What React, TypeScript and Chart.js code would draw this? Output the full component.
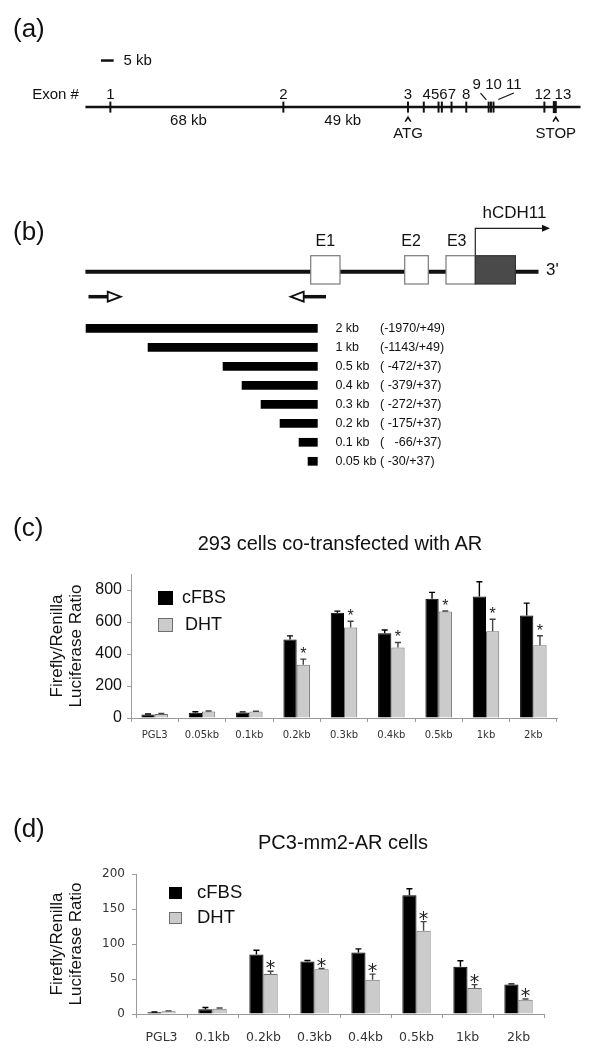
import React, { useEffect, useRef } from 'react';
import { Chart, registerables } from 'chart.js';
Chart.register(...registerables);

const SANS = '"Liberation Sans", Arial, Helvetica, sans-serif';
const DEJAVU = '"DejaVu Sans", Verdana, sans-serif';

// ---------------- (a) genomic organisation of hCDH11 ----------------
const exonNumbers = ['1', '2', '3', '4', '5', '6', '7', '8', '9', '10', '11', '12', '13'];
const exonKb = [0, 68, 117, 123.2, 129.0, 130.3, 134.1, 139.9, 148.7, 149.6, 150.6, 170.6, 174.7];
const geneSpanKb = [-9.8, 184.8];
const intronLabels = ['68 kb', '49 kb'];
const intronLabelKb = [30.7, 91.3];
const scaleBarKb = 5;
const landmarkLabels = ['ATG', 'STOP'];
const landmarkExon = [2, 12];

// ---------------- (b) promoter constructs ----------------
const fragmentNames = ['2 kb', '1 kb', '0.5 kb', '0.4 kb', '0.3 kb', '0.2 kb', '0.1 kb', '0.05 kb'];
const fragmentCoords = ['(-1970/+49)', '(-1143/+49)', '( -472/+37)', '( -379/+37)', '( -272/+37)', '( -175/+37)', '(   -66/+37)', '( -30/+37)'];
const fragmentDrawnLength = [232, 170, 95, 76, 57, 38, 19, 10];
const exonBoxNames = ['E1', 'E2', 'E3'];
const exonBoxStart = [-7, 87, 128.3];
const exonBoxEnd = [22.3, 110.6, 157.6];
const codingEnd = 197.7;
const promoterLineSpan = [-232.3, 220.8];

// ---------------- (c) 293 cells co-transfected with AR ----------------
const catsC = ['PGL3', '0.05kb', '0.1kb', '0.2kb', '0.3kb', '0.4kb', '0.5kb', '1kb', '2kb'];
const cfbsC = [22, 33, 35, 490, 658, 530, 745, 760, 640];
const cfbsErrC = [3, 6, 3, 23, 10, 20, 40, 92, 78];
const dhtC = [25, 40, 40, 333, 565, 440, 665, 542, 454];
const dhtErrC = [3, 4, 2, 35, 40, 32, 4, 75, 60];
const starsC = [false, false, false, true, true, true, true, true, true];
const ticksC = [0, 200, 400, 600, 800];

// ---------------- (d) PC3-mm2-AR cells ----------------
const catsD = ['PGL3', '0.1kb', '0.2kb', '0.3kb', '0.4kb', '0.5kb', '1kb', '2kb'];
const cfbsD = [2.4, 6.7, 85, 75, 88, 169.5, 67.5, 42];
const cfbsErrD = [0.5, 2.5, 6, 1.5, 5, 9.5, 8.5, 1];
const dhtD = [4, 7.6, 57, 64, 49, 119, 37, 20.5];
const dhtErrD = [0.5, 1, 4, 1, 8, 13, 5, 1];
const starsD = [false, false, true, true, true, true, true, true];
const ticksD = [0, 50, 100, 150, 200];

const seriesNames = ['cFBS', 'DHT'];
const yTitle = ['Firefly/Renilla', 'Luciferase Ratio'];

function text(ctx: CanvasRenderingContext2D, s: string, x: number, y: number, font: string, align: CanvasTextAlign = 'center', color = '#111') {
  ctx.font = font;
  ctx.fillStyle = color;
  ctx.textAlign = align;
  ctx.textBaseline = 'middle';
  ctx.fillText(s, x, y);
}

const noInteract = {
  responsive: false,
  maintainAspectRatio: false,
  animation: false as const,
  events: [] as any[],
};

// ---------- Panel (a) ----------
function buildA(): any {
  const panelA = {
    id: 'panelA',
    afterDatasetsDraw(chart: any) {
      const { ctx, scales: { x, y } } = chart;
      const X = (v: number) => x.getPixelForValue(v);
      const Y = (v: number) => y.getPixelForValue(v);
      const f = `15px ${SANS}`;
      ctx.save();
      text(ctx, `${scaleBarKb} kb`, X(scaleBarKb) + 0.5, Y(53), f, 'left');
      text(ctx, 'Exon #', X(-30.7), Y(14), f, 'left');
      const lower: [string, number][] = [
        [exonNumbers[0], exonKb[0]], [exonNumbers[1], exonKb[1]], [exonNumbers[2], exonKb[2]],
        [exonNumbers.slice(3, 7).join(''), 129.3], [exonNumbers[7], exonKb[7]],
        [exonNumbers[11], 170.0], [exonNumbers[12], 177.9],
      ];
      lower.forEach(([s, kb]) => text(ctx, s, X(kb), Y(14), f));
      const upper: [string, number][] = [[exonNumbers[8], 144.0], [exonNumbers[9], 150.6], [exonNumbers[10], 158.6]];
      upper.forEach(([s, kb]) => text(ctx, s, X(kb), Y(25), f));
      ctx.strokeStyle = '#111';
      ctx.lineWidth = 1.2;
      ctx.beginPath();
      ctx.moveTo(X(145.5), Y(16)); ctx.lineTo(X(147.8), Y(8.3));
      ctx.moveTo(X(158.6), Y(16)); ctx.lineTo(X(152.5), Y(8.7));
      ctx.stroke();
      intronLabels.forEach((s, i) => text(ctx, s, X(intronLabelKb[i]), Y(-16), f));
      landmarkLabels.forEach((s, i) => {
        const kb = exonKb[landmarkExon[i]];
        const cx = X(kb) + (i === 1 ? 1 : 0);
        ctx.lineWidth = 1.6;
        ctx.beginPath();
        ctx.moveTo(cx - 2.8, Y(-16.5)); ctx.lineTo(cx, Y(-11.5)); ctx.lineTo(cx + 2.8, Y(-16.5));
        ctx.stroke();
        text(ctx, s, cx, Y(-31), f);
      });
      ctx.restore();
    },
  };
  return {
    type: 'scatter',
    data: {
      datasets: [
        { type: 'line', data: geneSpanKb.map((k) => ({ x: k, y: 0 })), borderColor: '#111', borderWidth: 2.5, pointRadius: 0 },
        {
          type: 'scatter', data: exonKb.map((k) => ({ x: k, y: 0 })), pointStyle: 'line', rotation: 90,
          radius: (c: any) => (c.dataIndex === 12 ? 6 : 5.5), borderWidth: (c: any) => (c.dataIndex === 12 ? 4 : 2),
          borderColor: '#111', backgroundColor: '#111',
        },
        { type: 'line', data: [{ x: -3.7, y: 53 }, { x: -3.7 + scaleBarKb, y: 53 }], borderColor: '#111', borderWidth: 2.5, pointRadius: 0 },
      ],
    },
    options: {
      ...noInteract,
      layout: { padding: 0 },
      plugins: { legend: { display: false }, tooltip: { enabled: false } },
      scales: {
        x: { type: 'linear', min: -39.45, max: 190.5, display: false },
        y: { type: 'linear', min: -54.5, max: 110.5, display: false },
      },
    },
    plugins: [panelA],
  };
}

// ---------- Panel (b) ----------
function buildB(): any {
  const geneY = 106.7;
  const primerY = 131.7;
  const rowY = (i: number) => 163.3 + i * 19;
  const panelB = {
    id: 'panelB',
    afterDatasetsDraw(chart: any) {
      const { ctx, scales: { x, y } } = chart;
      const X = (v: number) => x.getPixelForValue(v);
      const Y = (v: number) => y.getPixelForValue(v);
      ctx.save();
      const top = Y(90.7), bot = Y(119);
      exonBoxNames.forEach((n, i) => {
        ctx.fillStyle = '#fff';
        ctx.fillRect(X(exonBoxStart[i]), top, X(exonBoxEnd[i]) - X(exonBoxStart[i]), bot - top);
        ctx.strokeStyle = '#7a7a7a'; ctx.lineWidth = 1.2;
        ctx.strokeRect(X(exonBoxStart[i]), top, X(exonBoxEnd[i]) - X(exonBoxStart[i]), bot - top);
      });
      ctx.fillStyle = '#4a4a4a';
      ctx.fillRect(X(exonBoxEnd[2]), top, X(codingEnd) - X(exonBoxEnd[2]), bot - top);
      ctx.strokeStyle = '#333';
      ctx.strokeRect(X(exonBoxEnd[2]), top, X(codingEnd) - X(exonBoxEnd[2]), bot - top);
      const f16 = `16px ${SANS}`;
      const labelX = [7.6, 93.3, 139];
      exonBoxNames.forEach((n, i) => text(ctx, n, X(labelX[i]), Y(76.7), f16));
      text(ctx, 'hCDH11', X(196.7), Y(48.3), `17px ${SANS}`);
      text(ctx, "3'", X(228.3), Y(105), `17px ${SANS}`, 'left');
      const tipX = X(232.3), ay = Y(63.3);
      ctx.fillStyle = '#111';
      ctx.beginPath(); ctx.moveTo(tipX, ay); ctx.lineTo(tipX - 8, ay - 3.5); ctx.lineTo(tipX - 8, ay + 3.5); ctx.closePath(); ctx.fill();
      ctx.strokeStyle = '#111'; ctx.lineWidth = 1.8; ctx.fillStyle = '#fff';
      const py = Y(primerY);
      ctx.beginPath(); ctx.moveTo(X(-210), py - 5); ctx.lineTo(X(-197), py); ctx.lineTo(X(-210), py + 5); ctx.closePath(); ctx.fill(); ctx.stroke();
      ctx.beginPath(); ctx.moveTo(X(-14), py - 5); ctx.lineTo(X(-27), py); ctx.lineTo(X(-14), py + 5); ctx.closePath(); ctx.fill(); ctx.stroke();
      const f12 = `12.5px ${SANS}`;
      fragmentNames.forEach((n, i) => {
        text(ctx, n, X(17.7), Y(rowY(i)), f12, 'left');
        text(ctx, fragmentCoords[i], X(62.3), Y(rowY(i)), f12, 'left');
      });
      ctx.restore();
    },
  };
  const datasets: any[] = [
    { type: 'line', data: promoterLineSpan.map((v) => ({ x: v, y: geneY })), borderColor: '#111', borderWidth: 4, pointRadius: 0, borderCapStyle: 'butt' },
    { type: 'line', data: [{ x: exonBoxEnd[2], y: 90.7 }, { x: exonBoxEnd[2], y: 63.3 }, { x: 226, y: 63.3 }], borderColor: '#222', borderWidth: 1.2, pointRadius: 0 },
    { type: 'line', data: [{ x: -229.2, y: primerY }, { x: -210, y: primerY }], borderColor: '#111', borderWidth: 3.5, pointRadius: 0, borderCapStyle: 'butt' },
    { type: 'line', data: [{ x: -14, y: primerY }, { x: 8.3, y: primerY }], borderColor: '#111', borderWidth: 3.5, pointRadius: 0, borderCapStyle: 'butt' },
  ];
  fragmentDrawnLength.forEach((len, i) => {
    datasets.push({ type: 'line', data: [{ x: -len, y: rowY(i) }, { x: 0, y: rowY(i) }], borderColor: '#000', borderWidth: 8.7, pointRadius: 0, borderCapStyle: 'butt' });
  });
  return {
    type: 'scatter',
    data: { datasets },
    options: {
      ...noInteract,
      layout: { padding: 0 },
      plugins: { legend: { display: false }, tooltip: { enabled: false } },
      scales: {
        x: { type: 'linear', min: -317.7, max: 287.3, display: false },
        y: { type: 'linear', min: 0, max: 340, reverse: true, display: false },
      },
    },
    plugins: [panelB],
  };
}

// ---------- bar charts (c) and (d) ----------
const errorPlugin = {
  id: 'errorStars',
  afterDatasetsDraw(chart: any, _a: any, opts: any) {
    const { ctx } = chart;
    const ys = chart.scales.y;
    ctx.save();
    chart.data.datasets.forEach((ds: any, i: number) => {
      const meta = chart.getDatasetMeta(i);
      meta.data.forEach((bar: any, j: number) => {
        const v = ds.data[j];
        const e = ds.errors[j];
        const yv = ys.getPixelForValue(v);
        const yt = ys.getPixelForValue(v + e);
        ctx.strokeStyle = ds.errorColor;
        ctx.lineWidth = 1.4;
        ctx.beginPath();
        ctx.moveTo(bar.x, yv); ctx.lineTo(bar.x, yt);
        ctx.moveTo(bar.x - opts.cap, yt); ctx.lineTo(bar.x + opts.cap, yt);
        ctx.stroke();
        if (ds.stars && ds.stars[j]) {
          ctx.font = opts.starFont;
          ctx.fillStyle = '#222';
          ctx.textAlign = 'center';
          ctx.textBaseline = 'alphabetic';
          ctx.fillText('*', bar.x, yt + opts.starDy);
        }
      });
    });
    ctx.restore();
  },
};

const boxLegend = {
  id: 'boxLegend',
  afterDraw(chart: any, _a: any, o: any) {
    const { ctx, chartArea } = chart;
    ctx.save();
    chart.data.datasets.forEach((ds: any, i: number) => {
      const bx = chartArea.left + o.dx;
      const by = chartArea.top + o.dy + i * o.step;
      ctx.fillStyle = ds.backgroundColor;
      ctx.fillRect(bx, by, o.w, o.h);
      ctx.strokeStyle = ds.borderColor;
      ctx.lineWidth = 1;
      ctx.strokeRect(bx + 0.5, by + 0.5, o.w - 1, o.h - 1);
      text(ctx, ds.label, bx + o.textDx + i * o.textShift, by + o.h / 2, o.font, 'left', '#111');
    });
    ctx.restore();
  },
};

function buildBar(p: any): any {
  return {
    type: 'bar',
    data: {
      labels: p.cats,
      datasets: [
        { label: seriesNames[0], data: p.cfbs, errors: p.cfbsErr, backgroundColor: '#000', borderColor: '#000', borderWidth: 1, errorColor: '#000' },
        { label: seriesNames[1], data: p.dht, errors: p.dhtErr, stars: p.stars, backgroundColor: '#cbcbcb', borderColor: '#6e6e6e', borderWidth: 1, errorColor: '#444' },
      ],
    },
    options: {
      ...noInteract,
      layout: { padding: { left: 0, right: p.padRight, top: p.padTop, bottom: 0 } },
      datasets: { bar: { barPercentage: 1, categoryPercentage: p.catPct } },
      plugins: {
        legend: { display: false },
        tooltip: { enabled: false },
        errorStars: { cap: 3, starFont: p.starFont, starDy: p.starDy },
        boxLegend: p.legend,
      },
      scales: {
        x: {
          type: 'category',
          grid: { display: true, drawOnChartArea: false, drawTicks: true, tickLength: 4, color: '#9a9a9a', offset: true },
          border: { display: true, color: '#9a9a9a', width: 1 },
          ticks: { font: p.xFont, color: '#333', padding: p.xPad, maxRotation: 0, autoSkip: false },
          afterFit: (s: any) => { s.height = p.xHeight; },
        },
        y: {
          type: 'linear', min: 0, max: p.yMax,
          afterBuildTicks: (s: any) => { s.ticks = p.yTicks.map((v: number) => ({ value: v })); },
          grid: { display: true, drawOnChartArea: false, drawTicks: true, tickLength: 4, color: '#9a9a9a' },
          border: { display: true, color: '#9a9a9a', width: 1 },
          ticks: { font: p.yFont, color: p.yColor, padding: p.yPad, callback: (v: number) => (p.yLabels.includes(v) ? String(v) : '') },
          title: { display: true, text: yTitle, font: { family: SANS, size: 17, lineHeight: 1.12 }, color: '#111', padding: { top: p.titlePad, bottom: 0 } },
          afterFit: (s: any) => { s.width = p.yWidth; },
        },
      },
    },
    plugins: [errorPlugin, boxLegend],
  };
}

function buildC(): any {
  return buildBar({
    cats: catsC, cfbs: cfbsC, cfbsErr: cfbsErrC, dht: dhtC, dhtErr: dhtErrC, stars: starsC,
    padRight: 48, padTop: 69, catPct: 0.56, xHeight: 37, yWidth: 131, yMax: 900,
    yTicks: [0, 100, 200, 300, 400, 500, 600, 700, 800, 900], yLabels: ticksC,
    xFont: { family: DEJAVU, size: 10 }, xPad: 7,
    yFont: { family: SANS, size: 16 }, yColor: '#111', yPad: 5,
    titlePad: 47.5,
    starFont: `16px ${SANS}`, starDy: 0,
    legend: { dx: 27, dy: 17, step: 27, w: 15, h: 14, textDx: 24, textShift: 3, font: `18px ${SANS}` },
  });
}

function buildD(): any {
  return buildBar({
    cats: catsD, cfbs: cfbsD, cfbsErr: cfbsErrD, dht: dhtD, dhtErr: dhtErrD, stars: starsD,
    padRight: 61, padTop: 119, catPct: 0.555, xHeight: 36, yWidth: 136, yMax: 200,
    yTicks: ticksD, yLabels: ticksD,
    xFont: { family: DEJAVU, size: 12.5 }, xPad: 12,
    yFont: { family: DEJAVU, size: 12 }, yColor: '#333', yPad: 7,
    titlePad: 47.5,
    starFont: `19px ${DEJAVU}`, starDy: 3,
    legend: { dx: 33, dy: 13, step: 25, w: 13, h: 12, textDx: 28, textShift: 0, font: `18.5px ${SANS}` },
  });
}

function ChartBox({ top, height, build }: { top: number; height: number; build: () => any }) {
  const ref = useRef<HTMLCanvasElement>(null);
  useEffect(() => {
    const chart = new Chart(ref.current as HTMLCanvasElement, build());
    return () => chart.destroy();
  }, []);
  return (
    <div style={{ position: 'absolute', left: 0, top, width: 605, height }}>
      <canvas ref={ref} width={605} height={height} style={{ display: 'block', width: 605, height }} />
    </div>
  );
}

function Label({ x, y, size, children, center = false }: any) {
  return (
    <div
      style={{
        position: 'absolute', left: x, top: y, fontFamily: SANS, fontSize: size, lineHeight: 1, color: '#111',
        whiteSpace: 'nowrap', transform: center ? 'translate(-50%, -50%)' : 'translateY(-50%)',
      }}
    >
      {children}
    </div>
  );
}

export default function App() {
  return (
    <div style={{ position: 'absolute', left: 0, top: 0, width: 605, height: 1050, background: '#fff', overflow: 'hidden' }}>
      <ChartBox top={0} height={165} build={buildA} />
      <ChartBox top={165} height={340} build={buildB} />
      <ChartBox top={505} height={250} build={buildC} />
      <ChartBox top={755} height={295} build={buildD} />
      <Label x={13} y={28} size={26}>(a)</Label>
      <Label x={13} y={231} size={26}>(b)</Label>
      <Label x={13} y={527} size={26}>(c)</Label>
      <Label x={13} y={828} size={26}>(d)</Label>
      <Label x={340} y={543} size={20} center>293 cells co-transfected with AR</Label>
      <Label x={343} y={842} size={20} center>PC3-mm2-AR cells</Label>
    </div>
  );
}
